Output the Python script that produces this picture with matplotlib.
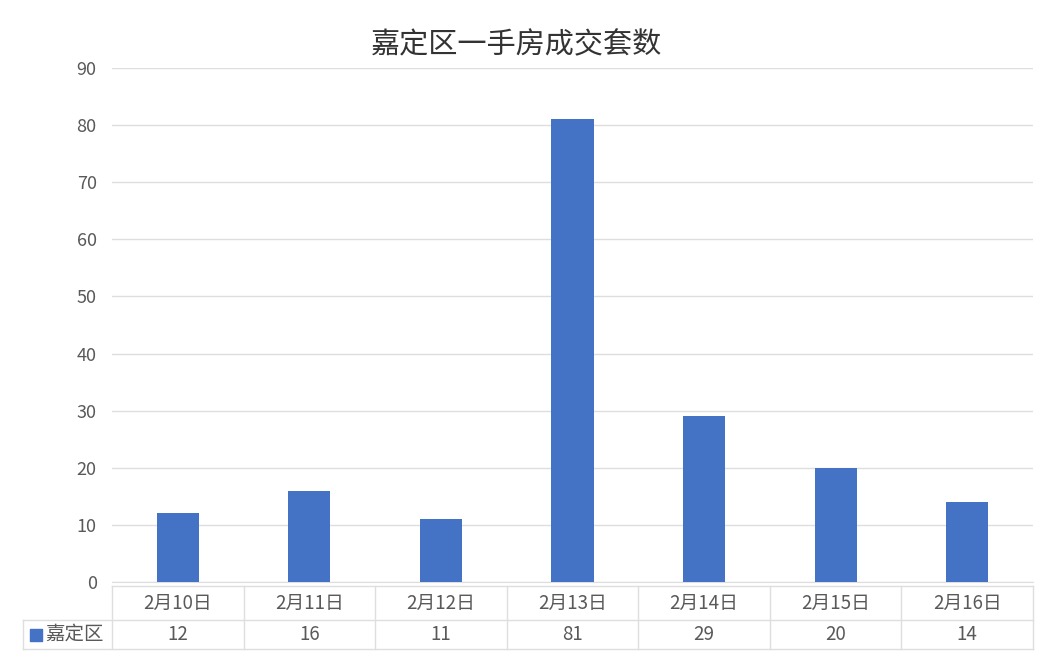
import matplotlib
matplotlib.use("Agg")
import matplotlib.pyplot as plt
import numpy as np

plt.rcParams['font.family'] = ['Noto Sans CJK SC', 'DejaVu Sans']

# data
dates = ["2月10日", "2月11日", "2月12日", "2月13日", "2月14日", "2月15日", "2月16日"]
series_name = "嘉定区"
counts = [12, 16, 11, 81, 29, 20, 14]
title = "嘉定区一手房成交套数"

bar_color = "#4472C4"
grid_color = "#DEDEDE"
text_color = "#595959"

W, H = 1046, 658
fig = plt.figure(figsize=(W / 100, H / 100), dpi=100)

# plot area in pixels
px_left, px_right, px_top, px_bottom = 112, 1033, 68, 582
ax = fig.add_axes([px_left / W, 1 - px_bottom / H,
                   (px_right - px_left) / W, (px_bottom - px_top) / H])

n = len(dates)
x = np.arange(n)
ax.bar(x, counts, width=0.32, color=bar_color, zorder=3)
ax.set_xlim(-0.5, n - 0.5)
ax.set_ylim(0, 90)
ax.set_yticks(range(0, 91, 10))
ax.tick_params(axis='y', length=0, pad=11, labelsize=13, labelcolor=text_color)
ax.set_xticks([])
ax.grid(axis='y', color=grid_color, linewidth=1, zorder=0)
for s in ['top', 'right', 'left']:
    ax.spines[s].set_visible(False)
ax.spines['bottom'].set_color(grid_color)

fig.text(516 / W, 1 - 45 / H, title, ha='center', va='center',
         fontsize=21, color='#333333')

# data table under the axis
ph = px_bottom - px_top
def ay(py):
    return (px_bottom - py) / ph

def ax_x(pxx):
    return (pxx - px_left) / (px_right - px_left)

t_top, t_mid, t_bot = ay(586), ay(620), ay(649)
lab_left = ax_x(23)
line_kw = dict(transform=ax.transAxes, color=grid_color, linewidth=1, clip_on=False)
ax.plot([0, 1], [t_top, t_top], **line_kw)
ax.plot([lab_left, 1], [t_mid, t_mid], **line_kw)
ax.plot([lab_left, 1], [t_bot, t_bot], **line_kw)
ax.plot([lab_left, lab_left], [t_mid, t_bot], **line_kw)
for i in range(n + 1):
    xf = i / n
    ax.plot([xf, xf], [t_top, t_bot], **line_kw)

for i in range(n):
    xc = (i + 0.5) / n
    ax.text(xc, (t_top + t_mid) / 2, dates[i], transform=ax.transAxes,
            ha='center', va='center', fontsize=13.5, color=text_color)
    ax.text(xc, (t_mid + t_bot) / 2, str(counts[i]), transform=ax.transAxes,
            ha='center', va='center', fontsize=13.5, color=text_color)

# legend key in the row label cell
ym = (t_mid + t_bot) / 2
ax.scatter([ax_x(36)], [ym], marker='s', s=75, color=bar_color,
           transform=ax.transAxes, clip_on=False)
ax.text(ax_x(45), ym, series_name, transform=ax.transAxes,
        ha='left', va='center', fontsize=14, color=text_color)

fig.savefig("out.png", dpi=100)
